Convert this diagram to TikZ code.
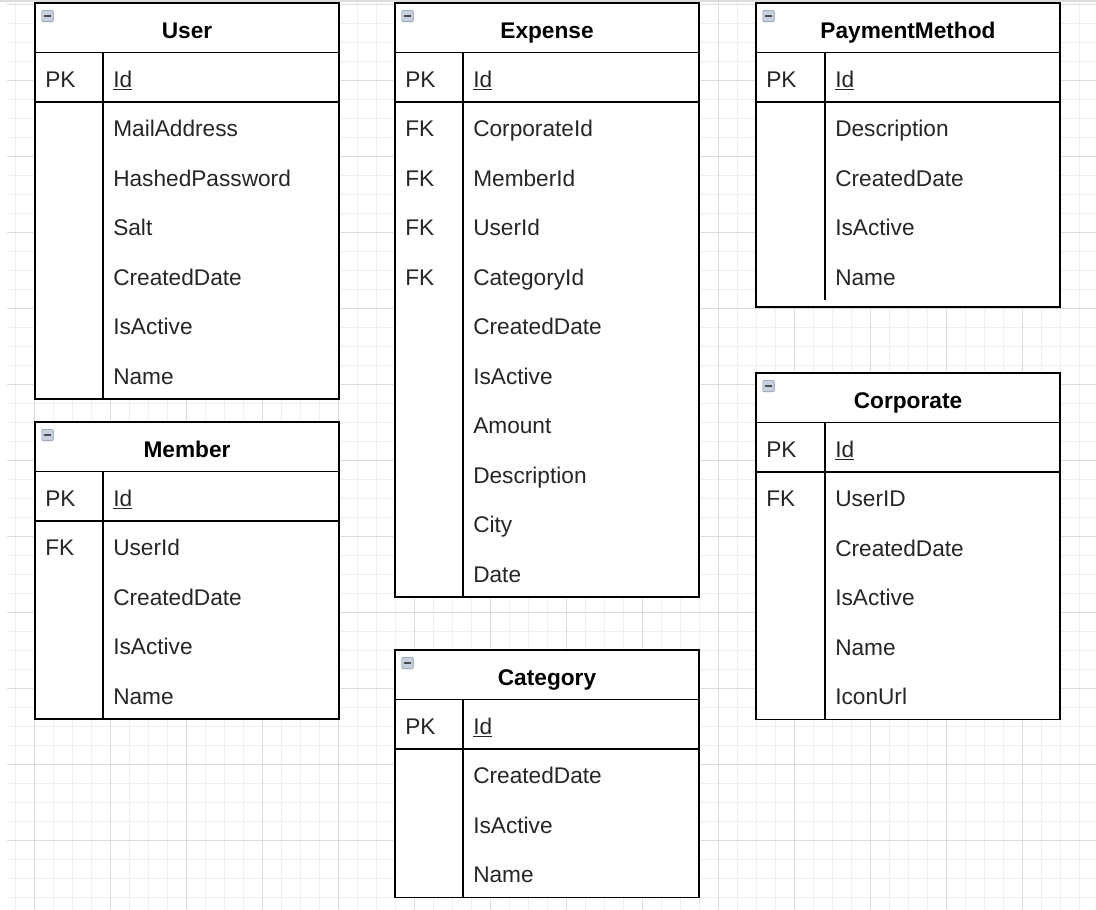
\documentclass[tikz,border=0pt]{standalone}
\usepackage{fontspec}
\setmainfont{Liberation Sans}

\definecolor{gridminor}{RGB}{238,238,238}
\definecolor{gridmajor}{RGB}{220,220,220}
\definecolor{fieldtext}{RGB}{38,38,38}
\definecolor{iconfill}{RGB}{198,208,222}
\definecolor{iconline}{RGB}{130,146,170}

\tikzset{
  every node/.style={font=\fontsize{17}{20}\selectfont, inner sep=0pt, text height=12.2pt, text depth=0pt},
  frame/.style={draw=black, line width=1.3pt},
  title/.style={font=\fontsize{17}{20}\selectfont\bfseries, text=black},
  key/.style={anchor=west, text=fieldtext},
  field/.style={anchor=west, text=fieldtext},
  toggle/.style={draw=iconline, fill=iconfill, rounded corners=1pt, minimum size=8.6pt, text height=0pt,
    path picture={\draw[line width=1.6pt, black!70] ([xshift=1.8pt]path picture bounding box.west) -- ([xshift=-1.8pt]path picture bounding box.east);}}
}

\begin{document}
\begin{tikzpicture}[x=0.75pt,y=-0.75pt]
            \useasboundingbox (0,0) rectangle (1096,910);

            % grid
            \foreach \gx in {15,34,...,1096} \draw[gridminor] (\gx,0) -- (\gx,910);
            \foreach \gy in {4,23,...,910} \draw[gridminor] (7,\gy) -- (1096,\gy);
            \foreach \gx in {34,110,...,1096} \draw[gridmajor] (\gx,0) -- (\gx,910);
            \foreach \gy in {4,80,...,910} \draw[gridmajor] (7,\gy) -- (1096,\gy);
            \draw[gridmajor, line width=1.5pt] (0,1) -- (1096,1);

            % User
            \draw[frame, fill=white] (35,3) rectangle (339,399);
            \draw[frame] (35,52.5) -- (339,52.5);
            \draw[frame] (35,102) -- (339,102);
            \draw[frame] (103,52.5) -- (103,399);
            \node[toggle] (usertog) at (47.5,16) {};
            \node[title] (user) at (187,30) {User};
            \node[key] (userpk) at (45,79.25) {PK};
            \node[field] (userid) at (113,79.25) {\underline{Id}};
            \foreach \f [count=\i] in {MailAddress,HashedPassword,Salt,CreatedDate,IsActive,Name}
              \node[field] (user\i) at (113,{79.25+49.5*\i}) {\f};

            % Member
            \draw[frame, fill=white] (35,422) rectangle (339,719);
            \draw[frame] (35,471.5) -- (339,471.5);
            \draw[frame] (35,521) -- (339,521);
            \draw[frame] (103,471.5) -- (103,719);
            \node[toggle] (membertog) at (47.5,435) {};
            \node[title] (member) at (187,449) {Member};
            \node[key] (memberpk) at (45,498.25) {PK};
            \node[field] (memberid) at (113,498.25) {\underline{Id}};
            \node[key] (memberfk) at (45,547.75) {FK};
            \foreach \f [count=\i] in {UserId,CreatedDate,IsActive,Name}
              \node[field] (member\i) at (113,{498.25+49.5*\i}) {\f};

            % Expense
            \draw[frame, fill=white] (395,3) rectangle (699,597);
            \draw[frame] (395,52.5) -- (699,52.5);
            \draw[frame] (395,102) -- (699,102);
            \draw[frame] (463,52.5) -- (463,597);
            \node[toggle] (expensetog) at (407.5,16) {};
            \node[title] (expense) at (547,30) {Expense};
            \node[key] (expensepk) at (405,79.25) {PK};
            \node[field] (expenseid) at (473,79.25) {\underline{Id}};
            \foreach \i in {1,...,4}
              \node[key] (expensefk\i) at (405,{79.25+49.5*\i}) {FK};
            \foreach \f [count=\i] in {CorporateId,MemberId,UserId,CategoryId,CreatedDate,IsActive,Amount,Description,City,Date}
              \node[field] (expense\i) at (473,{79.25+49.5*\i}) {\f};

            % Category
            \draw[frame, fill=white] (395,650) rectangle (699,897.5);
            \draw[frame] (395,699.5) -- (699,699.5);
            \draw[frame] (395,749) -- (699,749);
            \draw[frame] (463,699.5) -- (463,897.5);
            \node[toggle] (categorytog) at (407.5,663) {};
            \node[title] (category) at (547,677) {Category};
            \node[key] (categorypk) at (405,726.25) {PK};
            \node[field] (categoryid) at (473,726.25) {\underline{Id}};
            \foreach \f [count=\i] in {CreatedDate,IsActive,Name}
              \node[field] (category\i) at (473,{726.25+49.5*\i}) {\f};

            % PaymentMethod
            \draw[frame, fill=white] (756,3) rectangle (1060,307);
            \draw[frame] (756,52.5) -- (1060,52.5);
            \draw[frame] (756,102) -- (1060,102);
            \draw[frame] (825,52.5) -- (825,300);
            \node[toggle] (paymenttog) at (768.5,16) {};
            \node[title] (payment) at (908,30) {PaymentMethod};
            \node[key] (paymentpk) at (766,79.25) {PK};
            \node[field] (paymentid) at (835,79.25) {\underline{Id}};
            \foreach \f [count=\i] in {Description,CreatedDate,IsActive,Name}
              \node[field] (payment\i) at (835,{79.25+49.5*\i}) {\f};

            % Corporate
            \draw[frame, fill=white] (756,373) rectangle (1060,719.5);
            \draw[frame] (756,422.5) -- (1060,422.5);
            \draw[frame] (756,472) -- (1060,472);
            \draw[frame] (825,422.5) -- (825,719.5);
            \node[toggle] (corporatetog) at (768.5,386) {};
            \node[title] (corporate) at (908,400) {Corporate};
            \node[key] (corporatepk) at (766,449.25) {PK};
            \node[field] (corporateid) at (835,449.25) {\underline{Id}};
            \node[key] (corporatefk) at (766,498.75) {FK};
            \foreach \f [count=\i] in {UserID,CreatedDate,IsActive,Name,IconUrl}
              \node[field] (corporate\i) at (835,{449.25+49.5*\i}) {\f};
        \end{tikzpicture}
\end{document}
